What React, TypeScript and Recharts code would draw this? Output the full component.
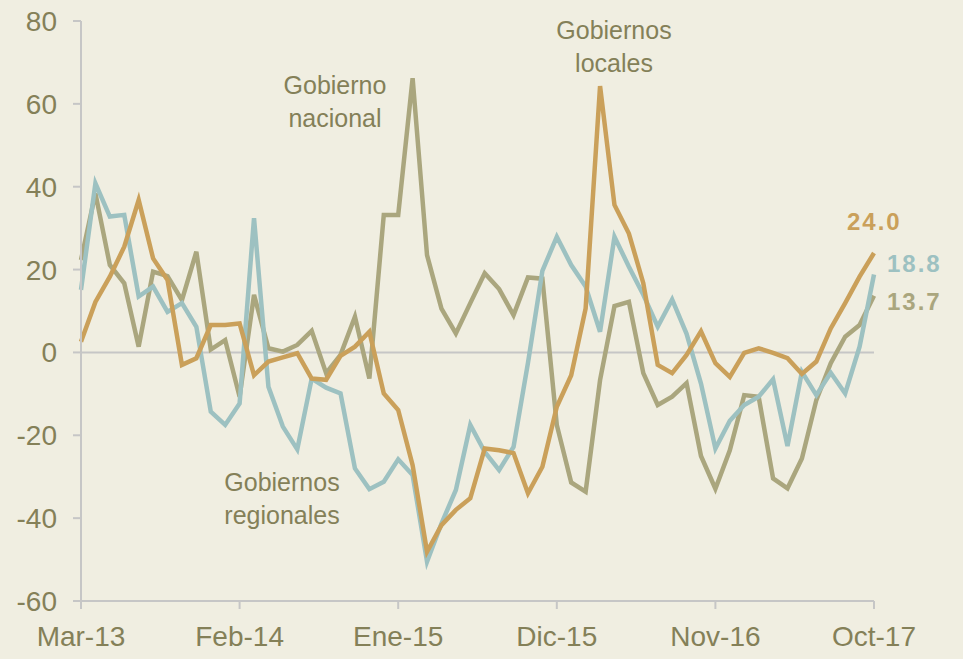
import { LineChart, Line, XAxis, YAxis, ReferenceLine } from 'recharts'

const meses = [
  'Mar-13', 'Abr-13', 'May-13', 'Jun-13', 'Jul-13', 'Ago-13', 'Set-13', 'Oct-13', 'Nov-13', 'Dic-13',
  'Ene-14', 'Feb-14', 'Mar-14', 'Abr-14', 'May-14', 'Jun-14', 'Jul-14', 'Ago-14', 'Set-14', 'Oct-14', 'Nov-14', 'Dic-14',
  'Ene-15', 'Feb-15', 'Mar-15', 'Abr-15', 'May-15', 'Jun-15', 'Jul-15', 'Ago-15', 'Set-15', 'Oct-15', 'Nov-15', 'Dic-15',
  'Ene-16', 'Feb-16', 'Mar-16', 'Abr-16', 'May-16', 'Jun-16', 'Jul-16', 'Ago-16', 'Set-16', 'Oct-16', 'Nov-16', 'Dic-16',
  'Ene-17', 'Feb-17', 'Mar-17', 'Abr-17', 'May-17', 'Jun-17', 'Jul-17', 'Ago-17', 'Set-17', 'Oct-17',
]

const nacional = [
  22.3, 38.4, 21.1, 16.7, 1.4, 19.5, 18.4, 12.6, 24.3, 0.7,
  3.0, -10.7, 13.9, 1.0, 0.2, 1.8, 5.2, -5.0, -0.6, 8.6, -6.3, 33.2,
  33.2, 66.2, 23.5, 10.6, 4.6, 11.9, 19.1, 15.3, 9.0, 18.1, 17.8, -17.5,
  -31.4, -33.6, -6.7, 11.2, 12.2, -5.0, -12.7, -10.7, -7.4, -25.0, -32.9, -23.6,
  -10.3, -10.7, -30.4, -32.8, -25.6, -11.5, -2.6, 3.8, 6.6, 13.7,
]

const regionales = [
  15.1, 40.8, 32.8, 33.2, 13.5, 15.9, 9.8, 11.9, 6.2, -14.3,
  -17.5, -12.3, 32.4, -8.3, -17.9, -23.4, -6.3, -8.5, -9.9, -28.0, -33.0, -31.2,
  -25.8, -29.6, -50.5, -41.3, -33.2, -17.5, -24.0, -28.4, -22.8, -2.5, 19.7, 27.9,
  21.1, 15.9, 5.0, 27.9, 20.7, 13.9, 6.2, 12.8, 4.5, -7.5, -23.2, -16.5,
  -12.7, -10.7, -6.5, -22.6, -4.7, -10.3, -4.9, -9.9, 1.4, 18.8,
]

const locales = [
  2.6, 12.2, 18.3, 25.5, 36.8, 22.7, 17.5, -3.0, -1.4, 6.6,
  6.6, 7.0, -5.5, -2.2, -1.2, -0.2, -6.3, -6.6, -0.8, 1.4, 5.0, -9.9,
  -13.9, -27.2, -48.1, -41.7, -38.0, -35.2, -23.2, -23.6, -24.3, -34.0, -27.6, -13.1,
  -5.5, 10.6, 64.3, 35.6, 28.7, 16.7, -3.0, -5.0, -0.6, 5.1, -2.6, -5.9,
  -0.1, 1.0, -0.1, -1.4, -5.2, -2.2, 5.8, 11.9, 18.3, 24.0,
]

const yTicks = [-60, -40, -20, 0, 20, 40, 60, 80]

const data = meses.map((mes, i) => ({
  mes,
  nacional: nacional[i],
  regionales: regionales[i],
  locales: locales[i],
}))

const BG = '#f0eee1'
const TEXT = '#848058'
const AXIS = '#c6c6c6'
const C_NAC = '#aaa67e'
const C_REG = '#9dc1c1'
const C_LOC = '#caa05a'
const FONT = '"Liberation Sans", Arial, sans-serif'

const last = meses.length - 1

// etiqueta con el ultimo valor de cada serie
function endLabel(color: string, dx: number, dy: number) {
  return (props: any) => {
    if (props.index !== last) return <g />
    return (
      <text
        x={props.x + dx}
        y={props.y + dy}
        fill={color}
        fontFamily={FONT}
        fontWeight="bold"
        fontSize={24}
        letterSpacing={2}
        dominantBaseline="central"
      >
        {Number(props.value).toFixed(1)}
      </text>
    )
  }
}

const notes = [
  { lines: ['Gobierno', 'nacional'], x: 335, y: 85 },
  { lines: ['Gobiernos', 'locales'], x: 614, y: 30 },
  { lines: ['Gobiernos', 'regionales'], x: 282, y: 482 },
]

export default function App() {
  return (
    <div style={{ position: 'absolute', left: 0, top: 0, width: 963, height: 659, background: BG }}>
      <LineChart
        width={963}
        height={659}
        data={data}
        margin={{ top: 21, right: 89, left: 0, bottom: 0 }}
      >
        <XAxis
          dataKey="mes"
          interval={10}
          height={58}
          stroke={AXIS}
          strokeWidth={2}
          tickSize={8}
          tickMargin={17}
          tick={{ fill: TEXT, fontSize: 28, fontFamily: FONT }}
        />
        <YAxis
          width={81}
          domain={[-60, 80]}
          ticks={yTicks}
          stroke={AXIS}
          strokeWidth={2}
          tickSize={8}
          tickMargin={16}
          tick={{ fill: TEXT, fontSize: 28, fontFamily: FONT }}
        />
        <ReferenceLine y={0} stroke={AXIS} strokeWidth={2} />
        <Line
          dataKey="nacional"
          stroke={C_NAC}
          strokeWidth={4.5}
          dot={false}
          isAnimationActive={false}
          label={endLabel(C_NAC, 13, 6)}
        />
        <Line
          dataKey="regionales"
          stroke={C_REG}
          strokeWidth={4.5}
          dot={false}
          isAnimationActive={false}
          label={endLabel(C_REG, 13, -11)}
        />
        <Line
          dataKey="locales"
          stroke={C_LOC}
          strokeWidth={4.5}
          dot={false}
          isAnimationActive={false}
          label={endLabel(C_LOC, -27, -32)}
        />
      </LineChart>
      {notes.map((n) =>
        n.lines.map((t, k) => (
          <div
            key={n.x + t}
            style={{
              position: 'absolute',
              left: n.x - 100,
              top: n.y + k * 33 - 16,
              width: 200,
              textAlign: 'center',
              fontFamily: FONT,
              fontSize: 25,
              lineHeight: '32px',
              color: TEXT,
            }}
          >
            {t}
          </div>
        ))
      )}
    </div>
  )
}
